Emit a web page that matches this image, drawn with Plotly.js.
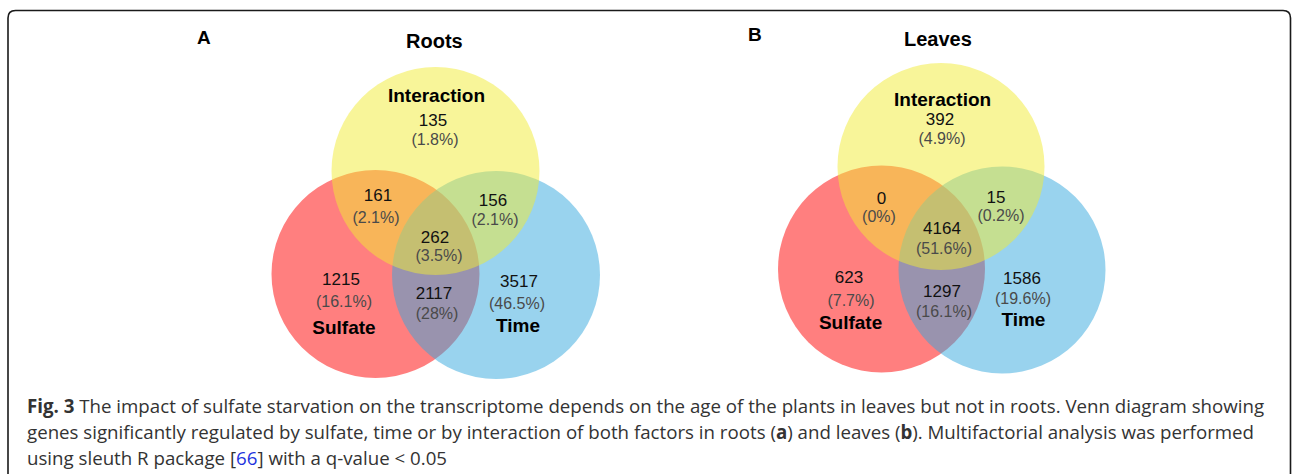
<!DOCTYPE html>
<html>
<head>
<meta charset="utf-8">
<script src="https://cdn.plot.ly/plotly-3.0.1.min.js"></script>
<style>html,body{margin:0;padding:0;background:#fff;}#chart{width:1292px;height:474px;}</style>
</head>
<body>
<div id="chart"></div>
<script>
// ---------- data ----------
const setNames = ["Interaction", "Sulfate", "Time"];
const regionKeys = ["I", "S&I", "I&T", "S&I&T", "S", "S&T", "T"];
const rootsCounts = [135, 161, 156, 262, 1215, 2117, 3517];
const rootsPercents = ["1.8%", "2.1%", "2.1%", "3.5%", "16.1%", "28%", "46.5%"];
const leavesCounts = [392, 0, 15, 4164, 623, 1297, 1586];
const leavesPercents = ["4.9%", "0%", "0.2%", "51.6%", "7.7%", "16.1%", "19.6%"];
const panelTitles = ["Roots", "Leaves"];
const panelLetters = ["A", "B"];
const captionLines = [
  "<b>Fig. 3</b> The impact of sulfate starvation on the transcriptome depends on the age of the plants in leaves but not in roots. Venn diagram showing",
  "genes significantly regulated by sulfate, time or by interaction of both factors in roots (<b>a</b>) and leaves (<b>b</b>). Multifactorial analysis was performed",
  "using sleuth R package [<span style=\"color:#2233dd\">66</span>] with a q-value &lt; 0.05"
];

// ---------- layout geometry (pixel-like axis units) ----------
const panels = [
  {
    counts: rootsCounts, pcts: rootsPercents, title: panelTitles[0], letter: panelLetters[0],
    circles: {S: [375.5, 274, 104], T: [496, 275, 104], I: [435.5, 171, 104]},
    numPos: [[433,122],[378,197],[493,202],[435,239],[341,281],[434,295],[519,283]],
    pctPos: [[435,141],[376,219],[495,221],[439,257],[344,303],[437,315],[517,305]],
    setPos: [[436.5,97],[344,329],[518,327]],
    titlePos: [434,41], letterPos: [204,37]
  },
  {
    counts: leavesCounts, pcts: leavesPercents, title: panelTitles[1], letter: panelLetters[1],
    circles: {S: [881.5, 269, 103.5], T: [1002, 270, 103.5], I: [941, 166.5, 103.5]},
    numPos: [[940,121],[881.5,200],[996,199],[942,230],[849,279],[942,293],[1022,280]],
    pctPos: [[942,140],[879,218],[1001,217],[944,250],[851,302],[944,313],[1023,300]],
    setPos: [[942.6,101],[850.6,324],[1023.4,321.7]],
    titlePos: [938,39], letterPos: [755,34]
  }
];

const circleColors = {S: "rgb(255,0,0)", T: "rgb(51,167,221)", I: "rgb(241,235,51)"};
const drawOrder = ["S", "T", "I"];

const shapes = [];
// outer rounded frame
shapes.push({
  type: "path", xref: "x", yref: "y",
  path: "M 8,490 L 8,18 Q 8,10.5 15.5,10.5 L 1283,10.5 Q 1290.5,10.5 1290.5,18 L 1290.5,490",
  line: {color: "#1a1a1a", width: 1.6}, fillcolor: "rgba(0,0,0,0)"
});
panels.forEach(p => {
  drawOrder.forEach(k => {
    const [cx, cy, r] = p.circles[k];
    shapes.push({
      type: "circle", xref: "x", yref: "y", layer: "below",
      x0: cx - r, x1: cx + r, y0: cy - r, y1: cy + r,
      fillcolor: circleColors[k], opacity: 0.5, line: {width: 0}
    });
  });
});

const traces = [];
panels.forEach(p => {
  traces.push({
    type: "scatter", mode: "text", hoverinfo: "skip", showlegend: false,
    x: p.numPos.map(d => d[0]), y: p.numPos.map(d => d[1]),
    text: p.counts.map(String),
    textfont: {family: "Liberation Sans, Arial, sans-serif", size: 17, color: "#111"},
    textposition: "middle center"
  });
  traces.push({
    type: "scatter", mode: "text", hoverinfo: "skip", showlegend: false,
    x: p.pctPos.map(d => d[0]), y: p.pctPos.map(d => d[1]),
    text: p.pcts.map(s => "(" + s + ")"),
    textfont: {family: "Liberation Sans, Arial, sans-serif", size: 16, color: "#4a4a4a"},
    textposition: "middle center"
  });
  traces.push({
    type: "scatter", mode: "text", hoverinfo: "skip", showlegend: false,
    x: p.setPos.map(d => d[0]), y: p.setPos.map(d => d[1]),
    text: setNames.map(s => "<b>" + s + "</b>"),
    textfont: {family: "Liberation Sans, Arial, sans-serif", size: 19, color: "#000"},
    textposition: "middle center"
  });
});

const annotations = [];
panels.forEach(p => {
  annotations.push({
    xref: "x", yref: "y", x: p.titlePos[0], y: p.titlePos[1], showarrow: false,
    text: "<b>" + p.title + "</b>", xanchor: "center", yanchor: "middle",
    font: {family: "Liberation Sans, Arial, sans-serif", size: 20, color: "#000"}
  });
  annotations.push({
    xref: "x", yref: "y", x: p.letterPos[0], y: p.letterPos[1], showarrow: false,
    text: "<b>" + p.letter + "</b>", xanchor: "center", yanchor: "middle",
    font: {family: "Liberation Sans, Arial, sans-serif", size: 19, color: "#000"}
  });
});
const captionY = [405, 431, 457];
captionLines.forEach((t, i) => {
  annotations.push({
    xref: "x", yref: "y", x: 25, y: captionY[i], showarrow: false,
    text: t, xanchor: "left", yanchor: "middle", align: "left",
    font: {family: "'Open Sans', Lato, sans-serif", size: 18.7, color: "#333"}
  });
});

const layout = {
  width: 1292, height: 474,
  margin: {l: 0, r: 0, t: 0, b: 0, pad: 0},
  paper_bgcolor: "#ffffff", plot_bgcolor: "#ffffff",
  xaxis: {range: [0, 1292], visible: false, fixedrange: true},
  yaxis: {range: [474, 0], visible: false, fixedrange: true},
  shapes: shapes,
  annotations: annotations,
  showlegend: false
};

Plotly.newPlot("chart", traces, layout, {staticPlot: true, displayModeBar: false});
</script>
</body>
</html>
